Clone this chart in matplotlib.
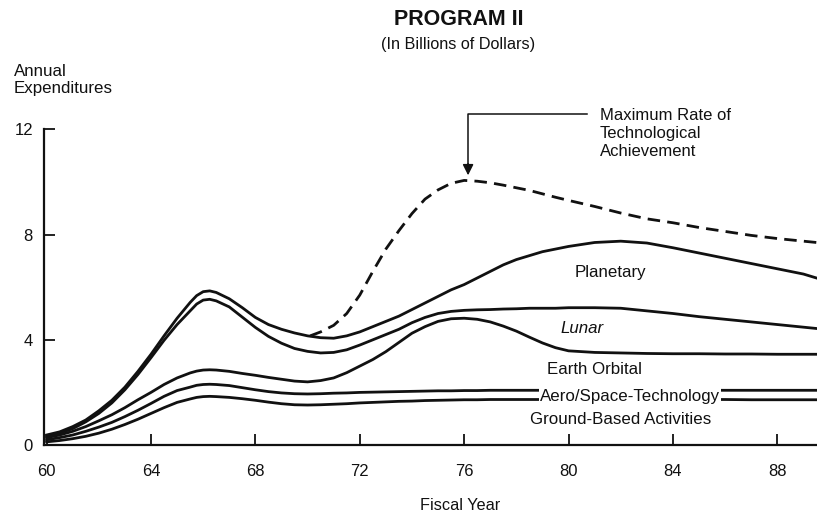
import numpy as np
import matplotlib
matplotlib.use('Agg')
import matplotlib.pyplot as plt

plt.rcParams['font.family'] = ['Liberation Sans', 'DejaVu Sans']

#fiscal years (finer steps where the curves bend, yearly after 80)
years = [60, 60.5, 61, 61.5, 62, 62.5, 63, 63.5, 64, 64.5, 65, 65.5, 65.75, 66, 66.25, 66.5, 67, 67.5,
         68, 68.5, 69, 69.5, 70, 70.5, 71, 71.5, 72, 72.5, 73, 73.5, 74, 74.5, 75, 75.5,
         76, 76.5, 77, 77.5, 78, 78.5, 79, 79.5, 80, 81, 82, 83, 84, 85, 86, 87, 88, 89, 89.5]

#cumulative expenditure (billions of dollars), top edge of each band
planetary = [0.38, 0.5, 0.7, 0.95, 1.3, 1.7, 2.2, 2.8, 3.45, 4.15, 4.82, 5.42, 5.68, 5.83, 5.86, 5.8, 5.56, 5.22,
             4.85, 4.58, 4.4, 4.26, 4.15, 4.08, 4.06, 4.15, 4.3, 4.5, 4.7, 4.9, 5.15, 5.4, 5.65, 5.9,
             6.1, 6.35, 6.6, 6.85, 7.05, 7.2, 7.35, 7.45, 7.55, 7.7, 7.75, 7.68, 7.5, 7.3, 7.1, 6.9, 6.7, 6.5, 6.35]
lunar = [0.33, 0.45, 0.62, 0.88, 1.2, 1.6, 2.1, 2.68, 3.32, 3.98, 4.58, 5.1, 5.36, 5.51, 5.54, 5.48, 5.25, 4.86,
         4.47, 4.13, 3.87, 3.67, 3.56, 3.5, 3.52, 3.62, 3.8, 4.0, 4.2, 4.4, 4.65, 4.85, 5.0, 5.08,
         5.12, 5.14, 5.15, 5.17, 5.18, 5.2, 5.2, 5.2, 5.22, 5.22, 5.2, 5.1, 5.0, 4.88, 4.78, 4.68, 4.58, 4.48, 4.43]
earth_orbital = [0.28, 0.38, 0.52, 0.7, 0.92, 1.15, 1.42, 1.72, 2.0, 2.3, 2.55, 2.74, 2.81, 2.85, 2.86, 2.85, 2.8, 2.72,
                 2.65, 2.57, 2.5, 2.43, 2.4, 2.45, 2.55, 2.75, 3.0, 3.25, 3.55, 3.9, 4.25, 4.5, 4.7, 4.8,
                 4.82, 4.78, 4.68, 4.52, 4.33, 4.1, 3.88, 3.7, 3.58, 3.52, 3.5, 3.48, 3.47, 3.47, 3.46, 3.46, 3.45, 3.45, 3.45]
aero_space = [0.2, 0.28, 0.38, 0.52, 0.68, 0.86, 1.08, 1.32, 1.58, 1.85, 2.07, 2.2, 2.27, 2.3, 2.31, 2.3, 2.26, 2.18,
              2.1, 2.03, 1.98, 1.95, 1.94, 1.95, 1.97, 1.98, 2.0, 2.01, 2.02, 2.03, 2.04, 2.05, 2.06, 2.06,
              2.07, 2.07, 2.08, 2.08, 2.08, 2.08, 2.08, 2.08, 2.08, 2.08, 2.08, 2.08, 2.08, 2.08, 2.08, 2.08, 2.08, 2.08, 2.08]
ground = [0.12, 0.17, 0.24, 0.33, 0.45, 0.6, 0.78, 0.98, 1.2, 1.42, 1.62, 1.75, 1.81, 1.84, 1.85, 1.84, 1.81, 1.76,
          1.7, 1.63, 1.57, 1.53, 1.52, 1.53, 1.55, 1.57, 1.6, 1.62, 1.64, 1.66, 1.67, 1.69, 1.7, 1.71,
          1.72, 1.72, 1.73, 1.73, 1.73, 1.73, 1.73, 1.73, 1.73, 1.73, 1.73, 1.73, 1.73, 1.73, 1.73, 1.72, 1.72, 1.72, 1.72]

#dashed "maximum rate" curve, starts where it leaves the planetary line
max_years = [70.1, 70.5, 71, 71.5, 72, 72.5, 73, 73.5, 74, 74.5, 75, 75.5, 76, 76.5, 77, 77.5,
             78, 78.5, 79, 79.5, 80, 81, 82, 83, 84, 85, 86, 87, 88, 89, 89.5]
max_rate = [4.15, 4.3, 4.55, 5.0, 5.7, 6.6, 7.45, 8.15, 8.8, 9.35, 9.7, 9.95, 10.06, 10.03, 9.97, 9.88,
            9.78, 9.68, 9.55, 9.42, 9.3, 9.07, 8.82, 8.6, 8.45, 8.27, 8.12, 7.97, 7.85, 7.75, 7.7]

x_ticks = [60, 64, 68, 72, 76, 80, 84, 88]
y_ticks = [0, 4, 8, 12]

fig = plt.figure(figsize=(8.17, 5.17), dpi=100)
ax = fig.add_axes([44 / 817, 72 / 517, 1 - 44 / 817, (445 - 129.4) / 517])

ink = '#111111'
for series in [planetary, lunar, earth_orbital, aero_space, ground]:
    ax.plot(years, series, color=ink, lw=2.0, solid_joinstyle='round', clip_on=False)
dash_line, = ax.plot(max_years, max_rate, color=ink, lw=2.0, clip_on=False)
dash_line.set_dashes((4.5, 2.6))

ax.set_xlim(59.9, 89.52)
ax.set_ylim(0, 12)
ax.spines['top'].set_visible(False)
ax.spines['right'].set_visible(False)
for s in ['left', 'bottom']:
    ax.spines[s].set_linewidth(1.6)
    ax.spines[s].set_color(ink)
ax.spines['left'].set_bounds(0, 12)

ax.set_xticks(x_ticks)
ax.set_yticks(y_ticks)
ax.tick_params(axis='x', direction='in', length=8, width=1.3, pad=14, labelsize=12, colors=ink)
ax.tick_params(axis='y', direction='in', length=8, width=1.3, pad=8, labelsize=12, colors=ink)

#band labels
lab = dict(ha='center', va='center', fontsize=12.2, color=ink)
ax.text(81.6, 6.57, 'Planetary', **lab)
ax.text(80.5, 4.43, 'Lunar', style='italic', **lab)
ax.text(81.0, 2.88, 'Earth Orbital', **lab)
ax.text(82.35, 1.86, 'Aero/Space-Technology', bbox=dict(facecolor='white', edgecolor='none', pad=0.5), **lab)
ax.text(82.0, 0.98, 'Ground-Based Activities', **lab)

#callout arrow to the peak of the dashed curve
ax.plot([80.7, 76.15, 76.15], [12.6, 12.6, 10.6], color=ink, lw=1.1, clip_on=False)
ax.annotate('', xy=(76.15, 10.15), xytext=(76.15, 10.8),
            arrowprops=dict(arrowstyle='-|>', color=ink, lw=1.1, mutation_scale=16),
            annotation_clip=False)
ax.text(81.2, 11.85, 'Maximum Rate of\nTechnological\nAchievement', ha='left', va='center',
        fontsize=12, color=ink, linespacing=1.26)

fig.text(459 / 817, 1 - 19.5 / 517, 'PROGRAM II', ha='center', va='center',
         fontsize=15.5, fontweight='bold', color=ink)
fig.text(458 / 817, 1 - 44 / 517, '(In Billions of Dollars)', ha='center', va='center',
         fontsize=11.7, color=ink)
fig.text(14 / 817, 1 - 80 / 517, 'Annual\nExpenditures', ha='left', va='center',
         fontsize=12.2, color=ink, linespacing=1.15)
fig.text(460 / 817, 1 - 505 / 517, 'Fiscal Year', ha='center', va='center',
         fontsize=11.7, color=ink)

fig.savefig('out.png', dpi=100, facecolor='white')
